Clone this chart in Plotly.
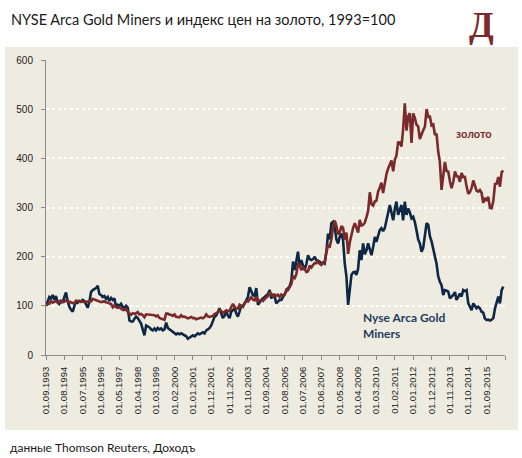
import pandas as pd
import plotly.graph_objects as go

# Monthly categories: 01.09.1993 ... 01.07.2016
months = pd.date_range(start="1993-09-01", periods=275, freq="MS")

# Gold price index (1993=100), by year
gold = (
    [100.0, 103.9, 104.2, 110.1]  # 1993 Sep-Dec
    + [106.5, 107.3, 109.6, 106.2, 109.0, 108.5, 108.2, 108.5, 111.0, 109.6, 107.9, 107.9]  # 1994
    + [105.6, 105.9, 110.4, 109.6, 108.5, 109.0, 107.9, 107.9, 108.2, 107.9, 109.0, 109.0]  # 1995
    + [114.1, 112.7, 111.5, 110.4, 109.9, 107.6, 108.5, 109.0, 106.8, 106.8, 104.5, 103.9]  # 1996
    + [97.2, 100.8, 98.0, 95.8, 97.2, 94.1, 91.8, 91.5, 93.5, 87.6, 83.4, 81.7]  # 1997
    + [85.1, 83.7, 84.8, 87.3, 82.5, 83.4, 81.1, 76.9, 82.8, 82.3, 82.8, 81.1]  # 1998
    + [80.8, 80.8, 78.6, 80.6, 75.5, 73.8, 71.8, 71.5, 84.2, 84.2, 82.0, 81.7]  # 1999
    + [79.7, 82.5, 77.7, 77.5, 76.6, 81.1, 77.7, 78.3, 76.9, 74.4, 75.8, 77.2]  # 2000
    + [74.9, 75.2, 72.7, 74.1, 75.2, 76.1, 74.6, 76.9, 82.5, 78.6, 77.5, 77.7]  # 2001
    + [79.4, 83.4, 84.8, 86.8, 91.8, 89.6, 85.6, 87.9, 91.0, 89.0, 89.9, 97.7]  # 2002
    + [103.7, 97.7, 94.1, 94.6, 101.7, 97.5, 99.7, 105.6, 109.3, 108.7, 112.1, 117.5]  # 2003
    + [112.4, 111.3, 119.2, 109.3, 110.7, 111.3, 110.1, 114.9, 117.2, 120.0, 127.6, 122.5]  # 2004
    + [118.9, 122.5, 120.6, 122.5, 117.7, 123.1, 120.8, 122.0, 133.2, 132.4, 139.4, 144.5]  # 2005
    + [160.3, 156.6, 163.9, 184.2, 183.9, 172.7, 178.3, 175.8, 168.7, 170.1, 182.0, 178.0]  # 2006
    + [183.1, 187.3, 186.5, 190.7, 185.6, 183.1, 187.3, 189.6, 209.3, 222.3, 220.6, 234.9]  # 2007
    + [260.0, 273.5, 262.8, 245.4, 249.3, 262.0, 258.6, 234.6, 249.0, 205.6, 229.3, 245.1]  # 2008
    + [258.9, 268.2, 258.0, 249.0, 274.6, 263.4, 264.5, 269.0, 280.6, 293.0, 331.0, 306.5]  # 2009
    + [303.7, 312.4, 313.5, 332.1, 340.3, 350.4, 329.3, 351.0, 368.2, 379.2, 389.6, 395.8]  # 2010
    + [373.8, 397.5, 405.4, 432.4, 432.7, 423.9, 458.6, 512.0, 456.3, 485.1, 491.8, 431.3]  # 2011
    + [491.3, 482.0, 468.2, 465.1, 439.2, 450.4, 456.9, 464.2, 500.3, 484.5, 484.8, 466.8]  # 2012
    + [468.7, 447.3, 450.1, 413.8, 392.7, 335.8, 370.4, 392.7, 373.8, 373.0, 353.0, 339.4]  # 2013
    + [352.4, 373.5, 363.9, 363.1, 352.4, 370.4, 362.0, 362.3, 342.5, 327.9, 331.3, 339.7]  # 2014
    + [354.9, 342.0, 334.4, 332.4, 335.5, 330.1, 309.3, 319.7, 313.8, 321.7, 299.2, 298.6]  # 2015
    + [313.0, 347.6, 348.5, 362.0, 342.3, 371.8, 375.0]  # 2016 Jan-Jul
)

# NYSE Arca Gold Miners index (1993=100), by year
miners = (
    [100, 110, 118, 115]  # 1993 Sep-Dec
    + [122, 112, 120, 108, 104, 110, 106, 118, 127, 110, 98, 92]  # 1994
    + [88, 100, 108, 106, 110, 108, 112, 110, 104, 96, 108, 128]  # 1995
    + [132, 134, 136, 141, 124, 122, 118, 120, 114, 118, 110, 116]  # 1996
    + [112, 115, 96, 102, 100, 104, 98, 96, 100, 96, 70, 68]  # 1997
    + [68, 74, 78, 75, 70, 64, 52, 40, 60, 58, 56, 52]  # 1998
    + [50, 54, 50, 55, 52, 54, 50, 52, 66, 55, 52, 50]  # 1999
    + [48, 45, 42, 44, 42, 44, 42, 40, 38, 33, 35, 38]  # 2000
    + [40, 38, 40, 44, 42, 45, 46, 44, 50, 52, 55, 60]  # 2001
    + [68, 78, 80, 88, 95, 85, 75, 80, 88, 80, 75, 88]  # 2002
    + [92, 95, 85, 78, 88, 100, 98, 105, 110, 118, 138, 130]  # 2003
    + [122, 120, 136, 102, 108, 112, 115, 118, 122, 124, 132, 115]  # 2004
    + [122, 118, 105, 108, 112, 112, 118, 125, 130, 136, 140, 152]  # 2005
    + [190, 173, 190, 210, 180, 193, 182, 173, 185, 203, 195, 193]  # 2006
    + [195, 200, 193, 192, 190, 186, 188, 186, 210, 247, 235, 268]  # 2007
    + [271, 260, 235, 227, 240, 247, 234, 186, 159, 102, 132, 163]  # 2008
    + [168, 169, 163, 175, 213, 193, 227, 205, 213, 227, 215, 203]  # 2009
    + [220, 240, 230, 245, 254, 258, 252, 258, 274, 285, 305, 290]  # 2010
    + [274, 298, 312, 285, 295, 305, 274, 312, 285, 298, 290, 278]  # 2011
    + [281, 270, 254, 235, 227, 210, 218, 250, 268, 265, 241, 231]  # 2012
    + [218, 200, 186, 160, 149, 142, 122, 132, 131, 129, 115, 118]  # 2013
    + [122, 128, 112, 118, 125, 119, 132, 130, 132, 105, 98, 91]  # 2014
    + [105, 100, 95, 98, 95, 88, 86, 74, 71, 72, 70, 72]  # 2015
    + [75, 95, 105, 119, 105, 132, 139]  # 2016 Jan-Jul
)

# Labelled ticks every 11 months
tick_dates = pd.date_range(start="1993-09-01", periods=26, freq="11MS")
tick_labels = [d.strftime("%d.%m.%Y") for d in tick_dates[:-1]] + [""]

y_ticks = [0, 100, 200, 300, 400, 500, 600]

title_text = "NYSE Arca Gold Miners и индекс цен на золото, 1993=100"
source_text = "данные Thomson Reuters, Доходъ"
gold_label = "золото"
miners_label = "Nyse Arca Gold<br>Miners"

GOLD_COLOR = "#7A2A2A"
MINERS_COLOR = "#0E2745"
BG = "#EEECE1"

fig = go.Figure()
fig.add_trace(go.Scatter(x=months, y=miners, mode="lines",
                         line=dict(color=MINERS_COLOR, width=2.6), hoverinfo="skip"))
fig.add_trace(go.Scatter(x=months, y=gold, mode="lines",
                         line=dict(color=GOLD_COLOR, width=2.6), hoverinfo="skip"))

W, H = 522, 458
L, R, T, B = 46, 17, 60, 103
pw, ph = W - L - R, H - T - B

def px_x(x):
    return (x - L) / pw

def px_y(y):
    return (H - B - y) / ph

fig.update_layout(
    width=W, height=H,
    margin=dict(l=L, r=R, t=T, b=B, pad=0),
    paper_bgcolor="white",
    plot_bgcolor=BG,
    showlegend=False,
    font=dict(family="Liberation Sans", color="#222222"),
    shapes=[dict(type="rect", xref="paper", yref="paper",
                 x0=px_x(5), x1=px_x(518), y0=px_y(430), y1=px_y(47),
                 fillcolor=BG, line=dict(width=0), layer="below")],
)

fig.update_xaxes(
    type="date",
    range=["1993-09-01", "2016-08-01"],
    tickmode="array", tickvals=tick_dates, ticktext=tick_labels,
    tickangle=-90, tickfont=dict(size=9.5, family="Liberation Sans", color="#222222"),
    ticks="outside", ticklen=4, tickcolor="#8A8A8A", tickwidth=1,
    showline=True, linecolor="#8A8A8A", linewidth=1,
    showgrid=False, zeroline=False, ticklabelstandoff=3,
)
fig.update_yaxes(
    range=[0, 600],
    tickmode="array", tickvals=y_ticks,
    tickfont=dict(size=10, family="Liberation Sans", color="#222222"),
    ticks="outside", ticklen=4, tickcolor="#8A8A8A", tickwidth=1,
    showline=True, linecolor="#8A8A8A", linewidth=1,
    showgrid=True, gridcolor="white", gridwidth=1.5, griddash="dot",
    zeroline=False, ticklabelstandoff=6,
)

fig.add_annotation(text=title_text, xref="paper", yref="paper",
                   x=px_x(9), y=px_y(20), xanchor="left", yanchor="middle",
                   showarrow=False, font=dict(family="Lato", size=14.5, color="#1A1A1A"))
fig.add_annotation(text="<b>Д</b>", xref="paper", yref="paper",
                   x=px_x(481), y=px_y(25), xanchor="center", yanchor="middle",
                   showarrow=False, font=dict(family="Liberation Serif", size=36, color=GOLD_COLOR))
fig.add_annotation(text=source_text, xref="paper", yref="paper",
                   x=px_x(8), y=px_y(447), xanchor="left", yanchor="middle",
                   showarrow=False, font=dict(family="Lato", size=12, color="#1A1A1A"))
fig.add_annotation(text="<b>" + gold_label + "</b>", xref="paper", yref="paper",
                   x=px_x(474), y=px_y(133), xanchor="center", yanchor="middle",
                   showarrow=False, font=dict(family="Lato", size=11, color=GOLD_COLOR))
fig.add_annotation(text="<b>" + miners_label + "</b>", xref="paper", yref="paper",
                   x=px_x(361), y=px_y(325), xanchor="left", yanchor="middle", align="left",
                   showarrow=False, font=dict(family="Lato", size=12, color="#1F3A5F"))

fig.write_html("out.html", config={"displayModeBar": False},
               post_script="document.body.style.margin='0';")
